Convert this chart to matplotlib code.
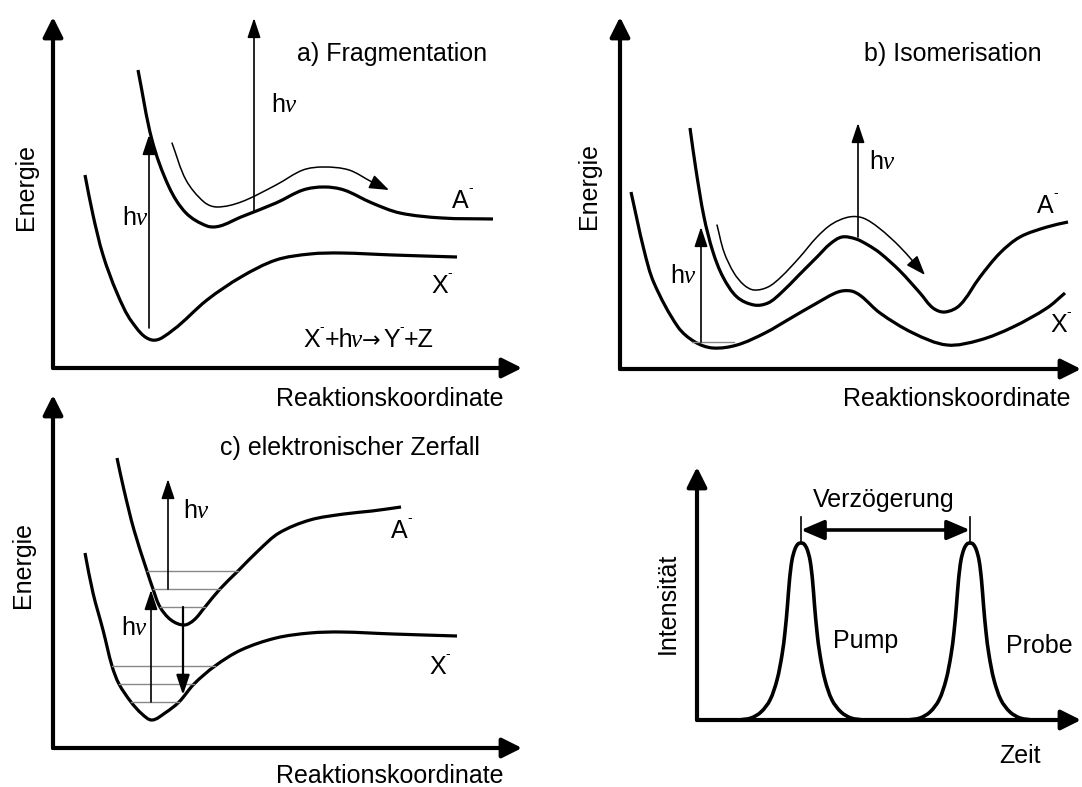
import matplotlib
matplotlib.use('Agg')
import matplotlib.pyplot as plt
import numpy as np
from matplotlib.path import Path
from matplotlib.patches import PathPatch, FancyArrowPatch

plt.rcParams['font.family'] = ['Liberation Sans', 'DejaVu Sans']
plt.rcParams['mathtext.fontset'] = 'custom'
plt.rcParams['mathtext.rm'] = 'Liberation Sans'
plt.rcParams['mathtext.it'] = 'Liberation Serif:italic'

# potential curves, points along each curve (x, y in figure pixels)
frag_X = [(85, 175), (93, 215), (103, 255), (117, 293), (132, 322), (152, 340), (173, 330),
          (207, 300), (241, 277), (276, 260), (310, 254), (341, 253), (393, 255), (457, 257)]
frag_A = [(138, 70), (152, 140), (169, 187), (186, 213), (207, 226), (220, 226), (241, 217),
          (276, 203), (303, 190), (324, 187), (344, 190), (372, 203), (400, 213), (442, 218), (493, 219)]
frag_path = [(172, 143), (186, 180), (204, 202), (217, 207), (241, 202), (276, 185), (303, 170),
             (324, 167), (349, 170), (372, 182), (389, 190)]

iso_X = [(631, 192), (644, 250), (654, 283), (678, 327), (695, 342), (713, 348), (737, 345),
         (765, 333), (791, 318), (817, 303), (838, 292), (851, 291), (861, 296), (880, 313),
         (913, 333), (947, 345), (980, 340), (1013, 327), (1047, 308), (1065, 293)]
iso_A = [(690, 128), (696, 170), (704, 217), (713, 252), (723, 277), (737, 297), (754, 305),
         (768, 303), (781, 293), (799, 275), (817, 257), (830, 244), (842, 237), (856, 239),
         (868, 245), (880, 253), (900, 271), (920, 293), (933, 308), (945, 312), (960, 305),
         (980, 277), (1000, 253), (1020, 237), (1047, 227), (1068, 222)]
iso_path = [(717, 225), (724, 252), (734, 273), (744, 285), (754, 290), (768, 287), (781, 277),
            (799, 258), (817, 237), (832, 224), (849, 217), (863, 218), (879, 228), (900, 247),
            (925, 275)]

dec_X = [(85, 553), (93, 593), (103, 630), (112, 666), (119, 684), (131, 702), (142, 714),
         (152, 720), (165, 713), (179, 702), (194, 684), (215, 666), (241, 650), (276, 638),
         (310, 633), (341, 632), (393, 634), (457, 636)]
dec_A = [(117, 458), (124, 490), (134, 530), (147, 571), (153, 589), (160, 607), (171, 620),
         (184, 625), (194, 620), (205, 607), (220, 589), (238, 571), (259, 550), (279, 533),
         (310, 520), (344, 514), (372, 511), (401, 507)]
# vibrational levels: (y, x_left, x_right)
dec_levels = [(571, 147, 238), (589, 153, 220), (607, 160, 205),
              (666, 112, 215), (684, 119, 194), (702, 131, 179)]

# pump/probe pulse profile: (time offset, height above axis)
pulse_dt = [-62, -50, -40, -31, -24, -19, -16, -13.5, -11.5, -9, -6, -3, 0,
            3, 6, 9, 11.5, 13.5, 16, 19, 24, 31, 40, 50, 62]
pulse_h = [0, 2, 8, 20, 40, 65, 88, 115, 140, 160, 171, 176, 177,
           176, 171, 160, 140, 115, 88, 65, 40, 20, 8, 2, 0]
pulse_t = [801, 970]
pulse_base = 720

# coordinate axes of the four panels: (corner, top tip, right tip)
panel_axes = [((53, 368), (53, 17), (522, 368)),
              ((620, 369), (620, 17), (1081, 369)),
              ((53, 748), (53, 395), (522, 748)),
              ((697, 720), (697, 467), (1081, 720))]


def smooth_path(pts):
    p = np.asarray(pts, float)
    n = len(p)
    tang = np.empty_like(p)
    for i in range(n):
        d = p[min(i + 1, n - 1)] - p[max(i - 1, 0)]
        tang[i] = d / np.hypot(*d)
    verts = [p[0]]
    codes = [Path.MOVETO]
    for i in range(n - 1):
        seg = np.hypot(*(p[i + 1] - p[i])) / 3
        verts += [p[i] + tang[i] * seg, p[i + 1] - tang[i + 1] * seg, p[i + 1]]
        codes += [Path.CURVE4] * 3
    return Path(verts, codes)


def curve(ax, pts, lw=2.3):
    ax.add_patch(PathPatch(smooth_path(pts), fill=False, lw=lw, color='k', capstyle='butt'))


def arrow(ax, tail, tip, lw=1.2, style='-|>,head_length=0.6,head_width=0.2'):
    ax.annotate('', xy=tip, xytext=tail,
                arrowprops=dict(arrowstyle=style, lw=lw, color='k', shrinkA=0, shrinkB=0,
                                mutation_scale=20))


def ion(ax, x, y, s):
    ax.text(x, y, s, fontsize=18, ha='left', va='baseline')
    ax.text(x + 16, y - 16, '-', fontsize=10, ha='left', va='baseline')


def hnu(ax, x, y):
    ax.text(x, y, r'h$\nu$', fontsize=18, ha='left', va='baseline')


fig = plt.figure(figsize=(10.82, 7.87), dpi=100)
ax = fig.add_axes([0, 0, 1, 1])
ax.set_xlim(0, 1082)
ax.set_ylim(787, 0)
ax.axis('off')

for corner, top, right in panel_axes:
    arrow(ax, corner, top, lw=3, style='-|>,head_length=0.6,head_width=0.3')
    arrow(ax, corner, right, lw=3, style='-|>,head_length=0.6,head_width=0.3')

# a) Fragmentation
curve(ax, frag_X)
curve(ax, frag_A)
ax.add_patch(FancyArrowPatch(path=smooth_path(frag_path), lw=1.1, color='k',
                             arrowstyle='-|>,head_length=0.6,head_width=0.22', mutation_scale=20))
arrow(ax, (149, 328), (149, 135))
arrow(ax, (254, 212), (254, 18))
hnu(ax, 122, 225)
hnu(ax, 271, 112)
ion(ax, 452, 208, 'A')
ion(ax, 431, 293, 'X')
# reaction equation, piece by piece
ion(ax, 303, 347, 'X')
ax.text(325, 347, '+h', fontsize=18, ha='left', va='baseline')
ax.text(351, 347, 'ν', fontsize=18, family='Liberation Serif', style='italic', va='baseline')
ax.text(362, 347, '→', fontsize=16, family='DejaVu Sans', va='baseline')
ion(ax, 383, 347, 'Y')
ax.text(404, 347, '+Z', fontsize=18, ha='left', va='baseline')
ax.text(297, 61, 'a) Fragmentation', fontsize=18, ha='left', va='baseline')
ax.text(276, 406, 'Reaktionskoordinate', fontsize=18, ha='left', va='baseline')
ax.text(26, 187, 'Energie', fontsize=18, rotation=90, ha='center', va='center')

# b) Isomerisation
curve(ax, iso_X)
curve(ax, iso_A)
ax.add_patch(FancyArrowPatch(path=smooth_path(iso_path), lw=1.1, color='k',
                             arrowstyle='-|>,head_length=0.6,head_width=0.22', mutation_scale=20))
ax.plot([692, 734], [342, 342], color='#888888', lw=1)
arrow(ax, (701, 342), (701, 227))
arrow(ax, (858, 237), (858, 123))
hnu(ax, 670, 283)
hnu(ax, 869, 169)
ion(ax, 1037, 213, 'A')
ion(ax, 1050, 332, 'X')
ax.text(864, 61, 'b) Isomerisation', fontsize=18, ha='left', va='baseline')
ax.text(843, 406, 'Reaktionskoordinate', fontsize=18, ha='left', va='baseline')
ax.text(589, 186, 'Energie', fontsize=18, rotation=90, ha='center', va='center')

# c) elektronischer Zerfall
for y, x0, x1 in dec_levels:
    ax.plot([x0, x1], [y, y], color='#888888', lw=1)
curve(ax, dec_X)
curve(ax, dec_A)
arrow(ax, (151, 702), (151, 590))
arrow(ax, (168, 589), (168, 479))
arrow(ax, (183, 607), (183, 695), lw=1.6)
hnu(ax, 121, 635)
hnu(ax, 183, 518)
ion(ax, 391, 538, 'A')
ion(ax, 429, 674, 'X')
ax.text(220, 455, 'c) elektronischer Zerfall', fontsize=18, ha='left', va='baseline')
ax.text(276, 783, 'Reaktionskoordinate', fontsize=18, ha='left', va='baseline')
ax.text(23, 565, 'Energie', fontsize=18, rotation=90, ha='center', va='center')

# pump-probe pulses
for t0 in pulse_t:
    pts = [(t0 + dt, pulse_base - h) for dt, h in zip(pulse_dt, pulse_h)]
    curve(ax, pts, lw=2.6)
    ax.plot([t0, t0], [pulse_base - max(pulse_h), 517], color='k', lw=1.2)
ax.annotate('', xy=(pulse_t[1], 530), xytext=(pulse_t[0], 530),
            arrowprops=dict(arrowstyle='<|-|>,head_length=0.7,head_width=0.3', lw=2.6,
                            color='k', shrinkA=0, shrinkB=0, mutation_scale=20))
ax.text(813, 507, 'Verzögerung', fontsize=18, ha='left', va='baseline')
ax.text(833, 648, 'Pump', fontsize=18, ha='left', va='baseline')
ax.text(1006, 653, 'Probe', fontsize=18, ha='left', va='baseline')
ax.text(999, 763, 'Zeit', fontsize=18, ha='left', va='baseline')
ax.text(668, 603, 'Intensität', fontsize=18, rotation=90, ha='center', va='center')

fig.savefig('out.png', dpi=100)
